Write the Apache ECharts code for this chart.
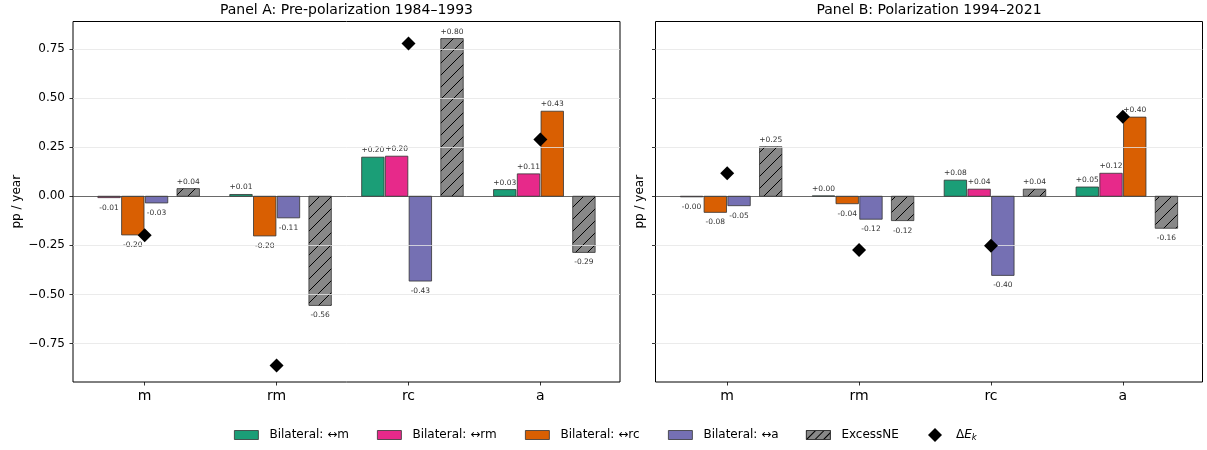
<!DOCTYPE html>
<html>
<head>
<meta charset="utf-8">
<script src="https://cdn.jsdelivr.net/npm/echarts@6/dist/echarts.min.js"></script>
<style>
  html, body { margin: 0; padding: 0; background: #fff; }
  #chart { width: 1207px; height: 450px; }
</style>
</head>
<body>
<div id="chart"></div>
<script>
// ---------------- DATA ----------------
const categories = ['m', 'rm', 'rc', 'a'];
const bilateralNames = ['Bilateral: \u2194m', 'Bilateral: \u2194rm', 'Bilateral: \u2194rc', 'Bilateral: \u2194a'];
const excessName = 'ExcessNE';
const deltaName = '\u0394E_k';
const yTicks = [-0.75, -0.5, -0.25, 0, 0.25, 0.5, 0.75];

// Panel A: Pre-polarization 1984–1993 (null = own category, no bar)
const a_bilM  = [null, 0.009, 0.199, 0.034];
const a_bilRM = [-0.007, null, 0.204, 0.114];
const a_bilRC = [-0.197, -0.202, null, 0.433];
const a_bilA  = [-0.034, -0.110, -0.432, null];
const a_excess = [0.039, -0.556, 0.803, -0.286];
const a_deltaE = [-0.199, -0.862, 0.778, 0.289];

// Panel B: Polarization 1994–2021
const b_bilM  = [null, 0.002, 0.082, 0.047];
const b_bilRM = [-0.003, null, 0.036, 0.117];
const b_bilRC = [-0.082, -0.038, null, 0.403];
const b_bilA  = [-0.048, -0.117, -0.403, null];
const b_excess = [0.252, -0.124, 0.036, -0.163];
const b_deltaE = [0.117, -0.274, -0.252, 0.405];

// ---------------- STYLE / LAYOUT ----------------
const FONT = 'DejaVu Sans';
const colors = ['#1b9e77', '#e7298a', '#d95f02', '#7570b3'];
const excessColor = '#888888';
const SLOT = [-0.27, -0.09, 0.09];
const EXCESS_OFF = 0.33;
const BAR_W = 0.17;
const HATCH = 12;
const X_MIN = -0.5435, X_MAX = 3.6035;
const Y_MIN = -0.946, Y_MAX = 0.890;

function fmtLabel(v) {
  return (v >= 0 ? '+' : '-') + Math.abs(v).toFixed(2);
}

function renderBar(api, color, hatch) {
  const x = api.value(0), v = api.value(1);
  const p0 = api.coord([x - BAR_W / 2, Math.max(v, 0)]);
  const p1 = api.coord([x + BAR_W / 2, Math.min(v, 0)]);
  const rx = p0[0], ry = p0[1], rw = p1[0] - p0[0], rh = p1[1] - p0[1];
  const children = [{
    type: 'rect', shape: { x: rx, y: ry, width: rw, height: rh },
    style: { fill: color, stroke: hatch ? null : '#333', lineWidth: 0.8 }
  }];
  if (hatch) {
    const start = Math.ceil((rx + ry) / HATCH) * HATCH;
    for (let c = start; c <= rx + rw + ry + rh; c += HATCH) {
      const xa = Math.max(rx, c - (ry + rh));
      const xb = Math.min(rx + rw, c - ry);
      if (xb > xa) {
        children.push({
          type: 'line', shape: { x1: xa, y1: c - xa, x2: xb, y2: c - xb },
          style: { stroke: '#000', lineWidth: 1 }
        });
      }
    }
    children.push({
      type: 'rect', shape: { x: rx, y: ry, width: rw, height: rh },
      style: { fill: null, stroke: '#333', lineWidth: 0.8 }
    });
  }
  const cx = rx + rw / 2;
  children.push({
    type: 'text',
    style: {
      text: fmtLabel(v), x: cx, y: v >= 0 ? ry - 3 : ry + rh + 6,
      align: 'center', verticalAlign: v >= 0 ? 'bottom' : 'top',
      fontSize: 7.5, fontFamily: FONT, fill: '#333'
    }
  });
  return { type: 'group', children };
}

function bilateralSeries(name, values, bIndex, axis) {
  const data = [];
  values.forEach((v, c) => {
    if (v === null) return;
    const slot = bIndex < c ? bIndex : bIndex - 1;
    data.push([c + SLOT[slot], v]);
  });
  return {
    type: 'custom', name, xAxisIndex: axis, yAxisIndex: axis, z: 3,
    itemStyle: { color: colors[bIndex] }, encode: { x: 0, y: 1 },
    data, renderItem: (p, api) => renderBar(api, colors[bIndex], false)
  };
}

function excessSeries(values, axis) {
  return {
    type: 'custom', name: excessName, xAxisIndex: axis, yAxisIndex: axis, z: 3,
    itemStyle: { color: excessColor }, encode: { x: 0, y: 1 },
    data: values.map((v, c) => [c + EXCESS_OFF, v]),
    renderItem: (p, api) => renderBar(api, excessColor, true)
  };
}

function deltaSeries(values, axis) {
  return {
    type: 'scatter', name: deltaName, xAxisIndex: axis, yAxisIndex: axis, z: 6,
    symbol: 'diamond', symbolSize: 14, itemStyle: { color: '#000', opacity: 1 },
    data: values.map((v, c) => [c, v])
  };
}

function gridLineSeries(axis) {
  return {
    type: 'line', xAxisIndex: axis, yAxisIndex: axis, z: 1, silent: true, data: [],
    markLine: {
      silent: true, symbol: 'none', animation: false, label: { show: false },
      data: yTicks.map(v => ({
        yAxis: v,
        lineStyle: { color: v === 0 ? '#444' : '#e6e6e6', width: 0.8, type: 'solid' }
      }))
    }
  };
}

const panels = [
  { bil: [a_bilM, a_bilRM, a_bilRC, a_bilA], excess: a_excess, delta: a_deltaE },
  { bil: [b_bilM, b_bilRM, b_bilRC, b_bilA], excess: b_excess, delta: b_deltaE }
];

const series = [];
panels.forEach((p, ax) => {
  series.push(gridLineSeries(ax));
  p.bil.forEach((vals, b) => series.push(bilateralSeries(bilateralNames[b], vals, b, ax)));
  series.push(excessSeries(p.excess, ax));
  series.push(deltaSeries(p.delta, ax));
});

function xAxisDef(grid) {
  return {
    type: 'value', gridIndex: grid, min: X_MIN, max: X_MAX,
    axisLine: { show: false, onZero: false },
    splitLine: { show: false },
    axisTick: { show: true, customValues: [0, 1, 2, 3], length: 3.5, lineStyle: { color: '#000', width: 0.8 } },
    axisLabel: {
      customValues: [0, 1, 2, 3], formatter: v => categories[Math.round(v)],
      fontSize: 14, fontFamily: FONT, color: '#000', margin: 7
    }
  };
}
function yAxisDef(grid, showLabels, nameGap) {
  return {
    type: 'value', gridIndex: grid, min: Y_MIN, max: Y_MAX,
    name: 'pp / year', nameLocation: 'middle', nameRotate: 90, nameGap,
    nameTextStyle: { fontSize: 12, fontFamily: FONT, color: '#000' },
    axisLine: { show: false, onZero: false },
    splitLine: { show: false },
    axisTick: { show: true, customValues: yTicks, length: 3.5, lineStyle: { color: '#000', width: 0.8 } },
    axisLabel: {
      show: showLabels, customValues: yTicks,
      formatter: v => (v < 0 ? '\u2212' : '') + Math.abs(v).toFixed(2),
      fontSize: 12, fontFamily: FONT, color: '#000', margin: 8
    }
  };
}

const legendBase = {
  top: 428, padding: 0, itemGap: 0, itemWidth: 24, itemHeight: 9,
  textStyle: { fontSize: 12, fontFamily: FONT, color: '#000', lineHeight: 14, padding: [0, 0, 0, 6] }
};
const legendItems = [
  { left: 234, data: { name: bilateralNames[0], icon: 'rect', itemStyle: { color: colors[0], borderColor: '#333', borderWidth: 0.8 } } },
  { left: 377, data: { name: bilateralNames[1], icon: 'rect', itemStyle: { color: colors[1], borderColor: '#333', borderWidth: 0.8 } } },
  { left: 525, data: { name: bilateralNames[2], icon: 'rect', itemStyle: { color: colors[2], borderColor: '#333', borderWidth: 0.8 } } },
  { left: 668, data: { name: bilateralNames[3], icon: 'rect', itemStyle: { color: colors[3], borderColor: '#333', borderWidth: 0.8 } } },
  { left: 806, data: { name: excessName, icon: 'rect', itemStyle: {
      color: excessColor, borderColor: '#333', borderWidth: 0.8,
      decal: { symbol: 'rect', symbolSize: 1, dashArrayX: [1, 0], dashArrayY: [1, 5], rotation: -Math.PI / 4, color: '#000' } } } }
];
const legends = legendItems.map(it => Object.assign({}, legendBase, { left: it.left, data: [it.data] }));
legends.push(Object.assign({}, legendBase, {
  left: 928, itemWidth: 14, itemHeight: 14,
  data: [{ name: deltaName, icon: 'diamond', itemStyle: { color: '#000', opacity: 1 } }],
  formatter: () => '{d|\u0394}{e|E}{k|k}',
  textStyle: {
    fontSize: 12, fontFamily: FONT, color: '#000', lineHeight: 14, padding: [0, 0, 0, 9],
    rich: {
      d: { fontSize: 12, fontFamily: FONT, lineHeight: 14, verticalAlign: 'middle' },
      e: { fontSize: 12, fontFamily: FONT, fontStyle: 'italic', lineHeight: 14, verticalAlign: 'middle' },
      k: { fontSize: 8.5, fontFamily: FONT, fontStyle: 'italic', lineHeight: 9, verticalAlign: 'bottom' }
    }
  }
}));

const option = {
  animation: false,
  backgroundColor: '#fff',
  title: [
    { text: 'Panel A: Pre-polarization 1984\u20131993', left: 346.5, top: 3, textAlign: 'center', padding: 0,
      textStyle: { fontSize: 14, fontWeight: 'normal', fontFamily: FONT, color: '#000' } },
    { text: 'Panel B: Polarization 1994\u20132021', left: 929, top: 3, textAlign: 'center', padding: 0,
      textStyle: { fontSize: 14, fontWeight: 'normal', fontFamily: FONT, color: '#000' } }
  ],
  grid: [
    { left: 73, top: 21.5, width: 547, height: 360.5, show: true, borderColor: '#000', borderWidth: 1, backgroundColor: 'transparent' },
    { left: 655.5, top: 21.5, width: 547, height: 360.5, show: true, borderColor: '#000', borderWidth: 1, backgroundColor: 'transparent' }
  ],
  xAxis: [xAxisDef(0), xAxisDef(1)],
  yAxis: [yAxisDef(0, true, 50), yAxisDef(1, false, 10)],
  legend: legends,
  series
};

const chart = echarts.init(document.getElementById('chart'), null, { renderer: 'canvas' });
chart.setOption(option);
</script>
</body>
</html>
